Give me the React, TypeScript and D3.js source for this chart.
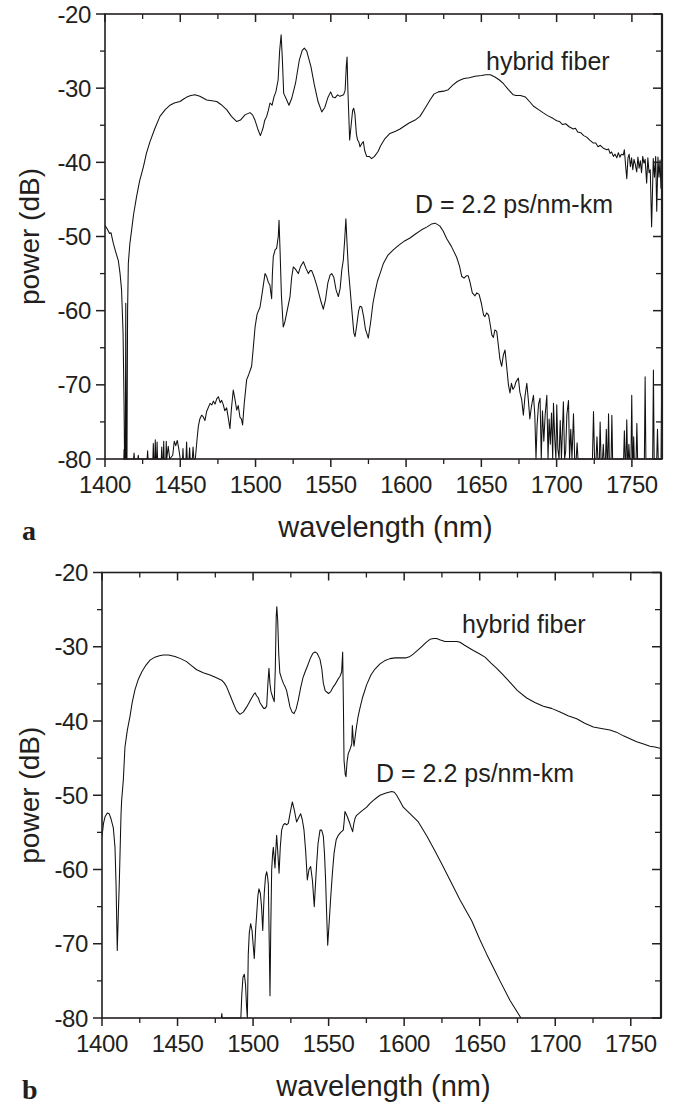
import React from "react";
import * as d3 from "d3";

type P = [number, number];

const xTicks = [1400, 1450, 1500, 1550, 1600, 1650, 1700, 1750];
const yTicks = [-20, -30, -40, -50, -60, -70, -80];
const xDomain: [number, number] = [1400, 1770];
const yDomain: [number, number] = [-80, -20];
const labelHybrid = "hybrid fiber";
const labelD = "D = 2.2 ps/nm-km";
const xTitle = "wavelength (nm)";
const yTitle = "power (dB)";

// Panel a, hybrid fiber
const hybridA: P[] = [
  [1400,-48.5],[1401.5,-49],[1403,-49.6],[1404,-49.5],[1405.5,-50.9],[1407,-52],[1408.9,-53.3],[1410,-55],[1411,-57.2],[1412,-63],[1412.6,-71.6],[1413,-80],[1413.5,-80],[1413.8,-59],[1414.2,-80],[1414.6,-80],[1415,-60],[1415.5,-53.6],[1416.5,-51],[1417.7,-49.1],[1419,-47],[1421,-44.6],[1423,-42.5],[1425.5,-40.6],[1427.5,-38.8],[1429.9,-37.2],[1433,-35.5],[1436.5,-33.8],[1440,-32.9],[1443.2,-32.3],[1446,-32],[1449.8,-31.8],[1452,-31.5],[1454.3,-31.2],[1457,-31],[1459.8,-30.9],[1463,-31.1],[1467.6,-31.6],[1471,-31.7],[1474.2,-31.8],[1477,-32.2],[1480.8,-32.9],[1484,-33.8],[1487.5,-34.5],[1490,-34.3],[1493,-33.6],[1496.3,-33.3],[1498,-33.6],[1499.6,-34.3],[1501.5,-35.5],[1503.2,-36.4],[1504.3,-35.8],[1505.2,-35.2],[1506,-34.4],[1507.4,-33.8],[1508.5,-33],[1509.6,-32.0],[1511,-32.3],[1512.2,-31.2],[1513.5,-30.5],[1515,-28.9],[1516,-25],[1517,-22.8],[1517.8,-26],[1518.7,-30.7],[1520.5,-31.5],[1522.2,-32.3],[1524,-31.4],[1526.6,-29.3],[1529,-26.3],[1531,-24.9],[1532.4,-24.6],[1534,-25],[1536.8,-27.1],[1539,-29.5],[1541.5,-31.8],[1544,-33.2],[1546,-32.6],[1548,-31.3],[1549.9,-30.5],[1551.3,-31.2],[1552.8,-31.3],[1554.5,-30.9],[1556,-31.1],[1558.5,-30.9],[1559.5,-30.3],[1560.3,-27],[1560.8,-25.8],[1561.3,-30],[1562,-34],[1562.5,-37],[1563.5,-35],[1564.5,-33],[1565.2,-32.7],[1566,-33.5],[1567,-36.2],[1567.8,-37.0],[1568.7,-37.3],[1569.4,-37.9],[1570.5,-37.5],[1571.6,-37.2],[1572.5,-38.4],[1573.8,-39.2],[1575.5,-39.2],[1577.1,-39.5],[1579,-39.2],[1581.5,-38.5],[1583,-37.8],[1586,-36.8],[1589.3,-36.1],[1593,-35.8],[1596,-35.5],[1598.2,-35.2],[1602,-34.7],[1606,-34.3],[1609.2,-33.8],[1612,-32.9],[1615.9,-31.6],[1618.5,-30.8],[1621.4,-30.5],[1625,-30.4],[1628,-30.2],[1631,-29.6],[1634,-29.1],[1636,-28.9],[1638.5,-28.7],[1642,-28.6],[1645.8,-28.4],[1650,-28.3],[1653,-28.2],[1656,-28.2],[1659,-28.5],[1662,-28.9],[1664.7,-29.4],[1668,-30.2],[1671.2,-30.9],[1673,-31.0],[1676,-31.0],[1679.3,-31.2],[1682,-31.8],[1684.5,-32.4],[1688,-32.9],[1690.9,-33.3],[1694,-33.7],[1697.8,-34.1],[1700,-34.4],[1702,-34.5],[1704,-34.9],[1706,-34.8],[1708.3,-35.2],[1711,-35.5],[1712.5,-35.4],[1714,-35.9],[1716,-36.0],[1718,-36.4],[1720,-36.6],[1722,-37.0],[1724.4,-37.4],[1726,-37.4],[1727.5,-37.9],[1729,-37.7],[1731,-38.1],[1733.3,-38.3],[1734.5,-38.2],[1735.5,-38.8],[1736.5,-38.6],[1737.7,-39.2],[1738.8,-38.9],[1740,-39.4],[1741,-38.7],[1742,-39.3],[1743,-38.9],[1744.3,-39.0],[1745,-38.3],[1745.8,-40.4],[1746.6,-42.2],[1747.4,-39.4],[1748.2,-38.9],[1749,-40.6],[1749.8,-39.4],[1750.6,-41],[1751.4,-39.6],[1752.2,-40.2],[1753.2,-41.3],[1754,-39.3],[1754.8,-40.8],[1755.6,-39.8],[1756.4,-41.4],[1757.2,-39.2],[1758,-40.1],[1758.8,-39.6],[1759.8,-42.8],[1760.6,-39.4],[1761.4,-41.4],[1762.2,-41],[1763.1,-48.7],[1763.8,-43],[1764.2,-39.5],[1765,-42],[1765.8,-39.2],[1766.5,-46.6],[1767.3,-39.3],[1768,-42],[1768.7,-39.7],[1769.3,-43.5],[1770,-41]
];

// Panel a, D = 2.2 ps/nm-km
const dispA: P[] = [
  [1412,-80],[1412.5,-80],[1412.7,-78.7],[1412.9,-80],[1419,-80],[1419.3,-79.2],[1419.6,-80],[1421.8,-80],[1422.1,-79.5],[1422.4,-80],[1428,-80],[1428.3,-78.9],[1428.6,-80],[1431.8,-80],[1432.1,-77.9],[1432.4,-80],[1433.1,-80],[1433.4,-77.4],[1433.7,-80],[1434.3,-80],[1434.6,-77.7],[1434.9,-80],[1437.4,-80],[1437.7,-78.4],[1438,-80],[1438.7,-80],[1439,-77.6],[1439.3,-80],[1440.4,-80],[1440.7,-77.6],[1441,-80],[1442,-78.3],[1443,-80],[1445,-79.5],[1446,-77.6],[1447,-78.2],[1448,-77.5],[1449,-78.6],[1450,-80],[1451.5,-80],[1451.8,-78.6],[1452.1,-80],[1453.8,-80],[1454.2,-77.7],[1454.6,-80],[1455.8,-80],[1456.2,-78.5],[1456.6,-80],[1458,-80],[1458.5,-78.4],[1459,-80],[1460,-80],[1461.3,-77],[1462,-75.6],[1463,-74.6],[1464.2,-74.1],[1465.2,-74.3],[1466.4,-74.8],[1467.5,-73.6],[1469.8,-72.5],[1471,-72.7],[1472,-72.2],[1473.1,-72.6],[1474.2,-71.9],[1475.3,-71.6],[1476.5,-72.4],[1477.5,-72.1],[1478.6,-72.7],[1479.6,-73.5],[1480.8,-73.1],[1482,-74.6],[1483,-75.9],[1484,-73.2],[1485.2,-70.7],[1486.2,-71.8],[1487.5,-73.4],[1488.5,-72.8],[1489.7,-74.4],[1490.6,-74.6],[1491.4,-75.4],[1492.5,-72.5],[1494.1,-69.3],[1495.5,-68.6],[1497.4,-67.5],[1498.5,-65],[1499.7,-62.2],[1501,-60.5],[1503,-59.5],[1504.5,-57.5],[1506.3,-55],[1507.4,-55.4],[1508.5,-56.2],[1509.5,-56.5],[1510.7,-58.4],[1511.2,-55],[1511.8,-52.7],[1513,-51.8],[1514,-51.6],[1515.1,-50],[1515.6,-47.8],[1516.3,-52],[1517.2,-58],[1518.4,-62.2],[1519.5,-61.5],[1521,-60],[1522.9,-58.1],[1524,-55.5],[1525.1,-54.1],[1526.5,-54.4],[1528.4,-55.0],[1530,-54],[1531.8,-53.4],[1533.5,-54.3],[1535.1,-55.0],[1536.3,-54.6],[1537.3,-54.6],[1539,-55.5],[1540.5,-56.5],[1541.7,-57.4],[1543.5,-58.8],[1545,-59.8],[1546.5,-58.5],[1548,-56.3],[1549.5,-55.2],[1550.6,-55.0],[1552,-55.5],[1553.5,-57.2],[1555,-58.1],[1556.2,-57],[1557.3,-54.5],[1558.3,-53.2],[1559.2,-50.5],[1560,-47.6],[1560.8,-51],[1561.7,-54.5],[1562.7,-56.8],[1564,-60],[1565.3,-63],[1566.1,-63.5],[1567.2,-62],[1568.5,-60],[1569.4,-59.4],[1570.5,-59.5],[1571.8,-60.8],[1573,-62.5],[1574.9,-63.7],[1576.5,-61.5],[1578,-59],[1579.4,-57.5],[1581,-56],[1582.7,-55],[1585,-53.6],[1588,-52.5],[1591.5,-51.8],[1595,-51.2],[1599,-50.6],[1602.6,-50.2],[1606,-49.7],[1610.3,-49.1],[1614,-48.7],[1617,-48.3],[1619.2,-48.2],[1621,-48.4],[1622.5,-48.6],[1624.7,-49.3],[1627,-50.3],[1630,-51.3],[1633.6,-52.8],[1635.5,-54],[1637,-55.4],[1638.5,-55.6],[1640,-55.3],[1641.3,-55.3],[1642.5,-56.2],[1644,-57.6],[1645.8,-58],[1647,-57.6],[1648.5,-57.8],[1650,-59],[1651.5,-60.6],[1652.4,-60.8],[1653.5,-60.3],[1654.8,-60.6],[1656,-62],[1657,-63.3],[1658,-63.6],[1659,-62.6],[1660.2,-62.8],[1661.2,-64.5],[1662.3,-66.5],[1663.5,-67.5],[1664.6,-66],[1665.7,-65.3],[1666.8,-67.5],[1668,-70],[1669,-71.1],[1670,-69.8],[1671,-70.6],[1672,-70.3],[1673,-69.6],[1674.6,-69.1],[1675.6,-71],[1676.8,-72],[1677.9,-74.1],[1679,-71.5],[1680.2,-69.8],[1681.2,-72],[1682.2,-74.6],[1683.2,-73],[1684.6,-71.4],[1685.5,-74],[1686.3,-80],[1687,-75.5],[1688,-72.6],[1689,-71.8],[1689.8,-80],[1690.6,-73.5],[1691.5,-77.6],[1692.4,-74],[1693.5,-71.4],[1694.3,-80],[1695,-74.6],[1695.8,-78],[1696.6,-73.8],[1697.4,-80],[1697.9,-72.5],[1698.8,-77.4],[1699.5,-80],[1700.1,-72.7],[1700.8,-78.6],[1701.6,-80],[1702.4,-74.8],[1703.2,-80],[1703.8,-76.5],[1704.5,-72.3],[1705.3,-80],[1706,-79],[1706.8,-74],[1707.9,-72.1],[1708.6,-80],[1709.4,-76],[1710.2,-80],[1711.2,-73.9],[1712,-80],[1713,-80],[1713.6,-77.8],[1714.2,-80],[1723.8,-80],[1724.5,-73.6],[1725.2,-80],[1726.2,-80],[1726.8,-77],[1727.4,-80],[1728.4,-80],[1728.9,-75],[1729.5,-80],[1730.5,-80],[1731,-78],[1731.5,-80],[1732.5,-80],[1733,-76],[1733.5,-80],[1734,-80],[1734.5,-73.9],[1735,-80],[1736.2,-80],[1736.7,-74.1],[1737.2,-80],[1744.5,-80],[1745,-76.2],[1745.5,-80],[1746.1,-80],[1746.6,-74.7],[1747.1,-80],[1747.6,-80],[1748,-78],[1748.5,-80],[1749.4,-80],[1749.9,-71.4],[1750.4,-80],[1750.8,-80],[1751.2,-77],[1751.6,-80],[1752.8,-80],[1753.3,-75.2],[1753.8,-80],[1758.3,-80],[1758.8,-68.9],[1759.3,-80],[1763.8,-80],[1764.3,-68],[1764.8,-80],[1766.5,-80],[1767,-76],[1767.5,-80],[1769.4,-80],[1769.9,-66.6],[1770,-70]
];

// Panel b, hybrid fiber
const hybridB: P[] = [
  [1400,-55.5],[1401,-53.8],[1402,-52.9],[1403.5,-52.4],[1404.8,-52.5],[1406,-53.2],[1407.5,-54.4],[1408.6,-57],[1409.3,-62],[1410.1,-70.9],[1410.8,-66],[1411.5,-61.4],[1412.6,-52.5],[1413,-50.7],[1414.1,-48],[1415.2,-43.5],[1416.8,-41.2],[1418.5,-39.4],[1420,-37.5],[1421.8,-35.8],[1424,-34.4],[1426.3,-33.4],[1429,-32.5],[1431.8,-31.8],[1435,-31.4],[1438,-31.2],[1440.6,-31.1],[1444,-31.1],[1448.3,-31.3],[1452,-31.6],[1456,-32.0],[1459,-32.5],[1462.7,-33.1],[1467,-33.5],[1471.5,-33.8],[1475,-34.1],[1479.2,-34.5],[1481,-34.9],[1482.5,-35.4],[1484.5,-36.4],[1486.9,-37.6],[1489,-38.6],[1491.3,-39.1],[1493.5,-38.8],[1495.8,-38.1],[1498.5,-37.1],[1500.5,-36.4],[1501.3,-36.2],[1502.3,-36.6],[1503.5,-36.9],[1504.5,-37.5],[1505.7,-37.9],[1507,-38.3],[1507.9,-38.3],[1509,-38.0],[1509.8,-35],[1510.5,-32.9],[1511.2,-35],[1511.8,-36],[1513,-36.8],[1514,-37.4],[1514.7,-33],[1515.3,-26],[1515.7,-24.6],[1516.3,-26.5],[1517,-31],[1517.7,-33.5],[1518.9,-34.3],[1520.2,-35],[1521.2,-35.4],[1522.2,-35.9],[1523.3,-37],[1524.4,-38.1],[1525.8,-38.8],[1527.1,-39.0],[1528.5,-38.4],[1529.9,-37.2],[1531.5,-35.5],[1533,-34.2],[1534.4,-33.4],[1536,-32.6],[1538,-31.5],[1539.5,-30.9],[1541,-30.7],[1542.5,-30.9],[1544.3,-31.7],[1545.5,-33],[1546.5,-34.9],[1547.7,-35.9],[1548.7,-36.1],[1550,-36.3],[1551.5,-36.0],[1553.1,-35.4],[1554.5,-35.0],[1556.4,-34.3],[1557.5,-34.0],[1558.6,-33.4],[1559.3,-30.7],[1559.8,-38],[1560.2,-45.3],[1561,-47.2],[1561.5,-47.5],[1562.2,-45.5],[1563,-44.4],[1564.2,-43.8],[1565.3,-43.1],[1565.7,-40.6],[1566.3,-42.5],[1566.8,-43.4],[1568,-41.4],[1569.5,-39.4],[1570.7,-38.3],[1572.5,-36.8],[1575.2,-35.1],[1578,-33.8],[1580.7,-33],[1584,-32.3],[1587,-31.9],[1590.6,-31.6],[1594,-31.5],[1598,-31.5],[1601,-31.5],[1603.9,-31.3],[1606,-31],[1609.4,-30.4],[1612,-29.9],[1614.5,-29.4],[1617.1,-29.0],[1619.5,-28.9],[1621.5,-28.9],[1624,-29.1],[1627,-29.3],[1629.2,-29.3],[1632,-29.3],[1635,-29.3],[1637,-29.4],[1640,-29.8],[1642.5,-30.1],[1645.8,-30.5],[1649.5,-30.9],[1653.5,-31.4],[1657.5,-32.2],[1661.3,-32.9],[1665.5,-33.8],[1670.1,-34.8],[1675,-35.9],[1681.1,-36.9],[1686.5,-37.5],[1692.1,-38.0],[1697.5,-38.3],[1703.2,-38.8],[1708.5,-39.3],[1714.2,-39.7],[1719.5,-40.3],[1725.2,-40.8],[1730.5,-41.0],[1736.2,-41.2],[1740.5,-41.5],[1745.1,-42.0],[1749.5,-42.4],[1753.9,-42.8],[1758.5,-43.1],[1762.7,-43.4],[1766,-43.5],[1770,-43.7]
];

// Panel b, D = 2.2 ps/nm-km
const dispB: P[] = [
  [1479,-80],[1479.3,-79.4],[1479.6,-80],[1491.9,-80],[1492.5,-77],[1493.3,-74.5],[1494.2,-74.1],[1495,-75.5],[1495.7,-78.5],[1496.2,-80],[1496.8,-71.5],[1497.5,-68.5],[1498.4,-67.3],[1499.3,-68.2],[1500,-70],[1500.8,-72.0],[1501.7,-68],[1502.4,-66.0],[1503.2,-63.5],[1503.9,-62.6],[1504.8,-63.2],[1505.6,-65],[1506.4,-68.2],[1507,-65],[1507.4,-63.2],[1508.2,-61],[1509,-60.3],[1509.6,-61],[1510.1,-62],[1510.7,-70],[1511.2,-77],[1511.7,-68],[1512.3,-60.1],[1512.9,-58],[1513.4,-57.0],[1514,-58.5],[1514.5,-59.8],[1515,-57.5],[1515.6,-55.4],[1516.3,-57.5],[1517.2,-60.5],[1518,-57],[1518.9,-54.7],[1520,-54],[1521.1,-53.8],[1522.2,-54],[1523.3,-53.8],[1524.7,-52.2],[1526,-50.9],[1527.3,-52],[1528.8,-53.6],[1530.2,-53],[1531.5,-52.5],[1532.6,-53.3],[1533.7,-54.7],[1534.8,-57.5],[1535.9,-61.4],[1537,-60],[1538.1,-59.6],[1539.3,-61.5],[1540.5,-65.0],[1541.3,-62],[1542.1,-59.2],[1543,-56.5],[1544.3,-54.7],[1545.4,-54.7],[1546.5,-55.5],[1547.3,-58],[1548,-61.4],[1548.7,-66],[1549.4,-70.2],[1550.4,-67],[1551.4,-63.7],[1552.5,-60.5],[1553.6,-57.8],[1555,-56],[1556.4,-55.4],[1558,-55],[1559.7,-54.7],[1560.3,-53.5],[1560.8,-52.2],[1562.2,-52.8],[1563.7,-53.6],[1565,-54.4],[1565.9,-54.9],[1566.7,-53.8],[1567.5,-53.1],[1568.5,-52.7],[1569.7,-52.5],[1572,-52.1],[1575.2,-51.6],[1577.4,-51.1],[1579.6,-50.7],[1582,-50.3],[1584,-50.0],[1588,-49.7],[1591.8,-49.5],[1593.5,-49.6],[1595,-50],[1597,-50.7],[1599.4,-51.6],[1604,-52.5],[1609.4,-53.6],[1615,-55.5],[1620.4,-57.5],[1625,-59.3],[1630.3,-61.4],[1637,-64.1],[1644.7,-66.9],[1650,-69.4],[1654.6,-71.4],[1659,-73.2],[1663.4,-75.0],[1670,-77.6],[1677.3,-80]
];

const FONT = "'Liberation Sans', Arial, Helvetica, sans-serif";
const INK = "#231f20";

interface PanelProps {
  left: number; right: number; top: number; bottom: number;
  series: P[][];
  letter: string;
  hybridPos: [number, number];
  dPos: [number, number];
  id: string;
}

function Panel({ left, right, top, bottom, series, letter, hybridPos, dPos, id }: PanelProps) {
  const x = d3.scaleLinear().domain(xDomain).range([left, right]);
  const y = d3.scaleLinear().domain(yDomain).range([bottom, top]);
  const line = d3.line<P>().x((d) => x(d[0])).y((d) => y(d[1]));
  const minorX = d3.range(1425, 1770, 50);
  const minorY = d3.range(-75, -20, 10);
  const cx = (left + right) / 2;
  const cy = (top + bottom) / 2;
  return (
    <g>
      <defs>
        <clipPath id={id}>
          <rect x={left} y={top - 1} width={right - left} height={bottom - top + 2} />
        </clipPath>
      </defs>
      <g clipPath={`url(#${id})`}>
        {series.map((s, i) => (
          <path key={i} d={line(s) || ""} fill="none" stroke="#111" strokeWidth={1.05} strokeLinejoin="round" />
        ))}
      </g>
      <rect x={left} y={top} width={right - left} height={bottom - top} fill="none" stroke={INK} strokeWidth={1.6} />
      <line x1={right} x2={right} y1={top} y2={bottom} stroke={INK} strokeWidth={2.2} />
      {xTicks.map((t) => (
        <g key={"xt" + t}>
          <line x1={x(t)} x2={x(t)} y1={bottom} y2={bottom + 8} stroke={INK} strokeWidth={1.5} />
          <line x1={x(t)} x2={x(t)} y1={top} y2={top + 8} stroke={INK} strokeWidth={1.5} />
          <text x={x(t)} y={bottom + 34} textAnchor="middle" fontFamily={FONT} fontSize={24} fill={INK} letterSpacing={-0.4}>{t}</text>
        </g>
      ))}
      {minorX.map((t) => (
        <g key={"xm" + t}>
          <line x1={x(t)} x2={x(t)} y1={bottom} y2={bottom + 5} stroke={INK} strokeWidth={1.3} />
          <line x1={x(t)} x2={x(t)} y1={top} y2={top + 5} stroke={INK} strokeWidth={1.3} />
        </g>
      ))}
      {yTicks.map((t) => (
        <g key={"yt" + t}>
          <line x1={left - 9} x2={left} y1={y(t)} y2={y(t)} stroke={INK} strokeWidth={1.5} />
          <line x1={right - 9} x2={right} y1={y(t)} y2={y(t)} stroke={INK} strokeWidth={1.5} />
          <text x={left - 14} y={y(t)} dy="0.36em" textAnchor="end" fontFamily={FONT} fontSize={24} fill={INK} letterSpacing={-0.4}>{t}</text>
        </g>
      ))}
      {minorY.map((t) => (
        <g key={"ym" + t}>
          <line x1={left - 5} x2={left} y1={y(t)} y2={y(t)} stroke={INK} strokeWidth={1.3} />
          <line x1={right - 6} x2={right} y1={y(t)} y2={y(t)} stroke={INK} strokeWidth={1.3} />
        </g>
      ))}
      <text x={cx + 2} y={bottom + 78} textAnchor="middle" fontFamily={FONT} fontSize={29} fill={INK}>{xTitle}</text>
      <text transform={`translate(39,${cy}) rotate(-90)`} textAnchor="middle" fontFamily={FONT} fontSize={28} fill={INK}>{yTitle}</text>
      <text x={22} y={bottom + 81} fontFamily="'Liberation Serif', 'Times New Roman', serif" fontWeight="bold" fontSize={28} fill={INK}>{letter}</text>
      <text x={hybridPos[0]} y={hybridPos[1]} fontFamily={FONT} fontSize={25} fill={INK}>{labelHybrid}</text>
      <text x={dPos[0]} y={dPos[1]} fontFamily={FONT} fontSize={25} fill={INK}>{labelD}</text>
    </g>
  );
}

export default function App() {
  return (
    <svg width={683} height={1108} style={{ position: "absolute", left: 0, top: 0, background: "#fff" }}>
      <rect width={683} height={1108} fill="#fff" />
      <Panel id="clipA" left={105} right={662} top={14} bottom={459} series={[hybridA, dispA]} letter="a" hybridPos={[486, 70]} dPos={[415, 213]} />
      <Panel id="clipB" left={102} right={661} top={572.5} bottom={1018} series={[hybridB, dispB]} letter="b" hybridPos={[462, 633]} dPos={[376, 782]} />
    </svg>
  );
}
